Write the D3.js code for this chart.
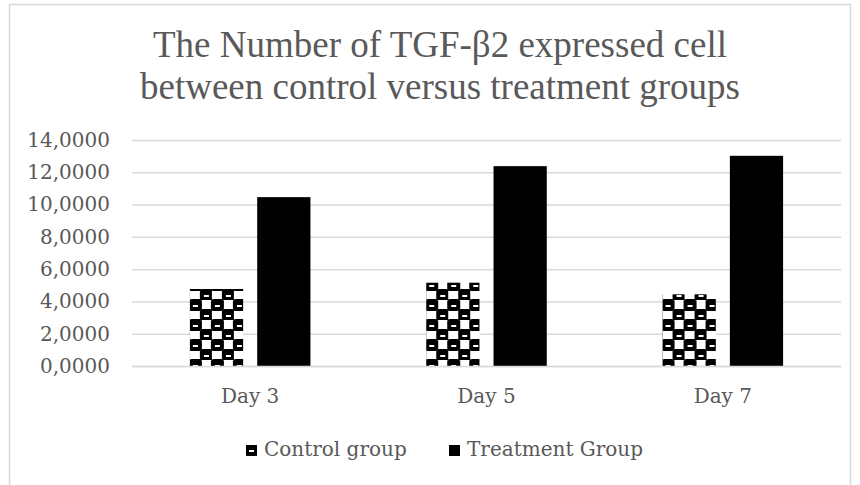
<!DOCTYPE html>
<html>
<head>
<meta charset="utf-8">
<script src="https://cdn.jsdelivr.net/npm/d3@7"></script>
<style>
  html, body { margin: 0; padding: 0; background: #fff; }
  svg { display: block; }
  .tick text { fill: #595959; font-family: "DejaVu Serif", serif; font-size: 20px; }
</style>
</head>
<body>
<div id="chart"></div>
<script>
// Chart data
const titleLines = ["The Number of TGF-\u03B22 expressed cell", "between control versus treatment groups"];
const days = ["Day 3", "Day 5", "Day 7"];
const seriesNames = ["Control group", "Treatment Group"];
const controlValues = [4.77, 5.16, 4.44];
const treatmentValues = [10.46, 12.38, 13.02];
const yTicks = [0, 2, 4, 6, 8, 10, 12, 14];

const W = 860, H = 485;
const plot = { left: 132, right: 841, top: 140, bottom: 366 };

const svg = d3.select("#chart").append("svg").attr("width", W).attr("height", H);

// checker pattern for the control series
const defs = svg.append("defs");
const pat = defs.append("pattern").attr("id", "checker").attr("patternUnits", "userSpaceOnUse")
  .attr("width", 22).attr("height", 20);
pat.append("rect").attr("width", 22).attr("height", 20).attr("fill", "#fff");
[[-1, -1], [10, 9], [21, -1], [-1, 19], [21, 19]].forEach(([x, y]) => {
  pat.append("rect").attr("x", x).attr("y", y).attr("width", 13).attr("height", 12).attr("rx", 3).attr("fill", "#000");
  pat.append("rect").attr("x", x + 4).attr("y", y + 6).attr("width", 5).attr("height", 2).attr("fill", "#fff");
});

// outer chart frame
svg.append("rect").attr("x", 9.5).attr("y", 4.5).attr("width", 841).attr("height", 500)
  .attr("fill", "none").attr("stroke", "#d9d9d9").attr("stroke-width", 1.5);

// title
svg.append("g").selectAll("text").data(titleLines).join("text")
  .attr("x", 440).attr("y", (d, i) => 57 + i * 41.5)
  .attr("text-anchor", "middle")
  .attr("font-family", "'Liberation Serif', 'Times New Roman', serif")
  .attr("font-size", 37).attr("fill", "#595959")
  .text(d => d);

const x0 = d3.scaleBand().domain(days).range([plot.left, plot.right]).paddingInner(0.49).paddingOuter(0.245);
const x1 = d3.scaleBand().domain(seriesNames).range([0, x0.bandwidth()]).paddingInner(14 / 67);
const y = d3.scaleLinear().domain([0, 14]).range([plot.bottom, plot.top]);

const fmt = d3.formatLocale({ decimal: ",", thousands: ".", grouping: [3], currency: ["", ""] }).format(".4f");

// gridlines + y labels
const yAxis = svg.append("g").attr("transform", `translate(${plot.left},0)`)
  .call(d3.axisLeft(y).tickValues(yTicks).tickFormat(fmt).tickSize(-(plot.right - plot.left)).tickPadding(22));
yAxis.select(".domain").remove();
yAxis.selectAll(".tick line").attr("stroke", "#d9d9d9").attr("stroke-width", 1.5);

// bars
const rows = days.map((d, i) => ({ day: d, vals: [controlValues[i], treatmentValues[i]] }));
const groups = svg.append("g").selectAll("g").data(rows).join("g")
  .attr("transform", d => `translate(${x0(d.day)},0)`);
groups.selectAll("rect").data(d => d.vals.map((v, j) => ({ s: seriesNames[j], v })))
  .join("rect")
  .attr("x", d => x1(d.s)).attr("width", x1.bandwidth())
  .attr("y", d => y(d.v)).attr("height", d => y(0) - y(d.v))
  .attr("fill", d => d.s === seriesNames[0] ? "url(#checker)" : "#000");

// x labels
const xAxis = svg.append("g").attr("transform", `translate(0,${plot.bottom})`)
  .call(d3.axisBottom(x0).tickSize(0).tickPadding(23));
xAxis.select(".domain").attr("stroke", "#d9d9d9").attr("stroke-width", 1.5);

// legend
const legendX = [246, 449];
const legend = svg.append("g").selectAll("g").data(seriesNames).join("g")
  .attr("transform", (d, i) => `translate(${legendX[i]},445)`);
legend.append("rect").attr("width", 11).attr("height", 11)
  .attr("fill", (d, i) => i === 0 ? "url(#checker)" : "#000");
legend.append("text").attr("x", 18).attr("y", 11)
  .attr("font-family", "'DejaVu Serif', serif").attr("font-size", 20).attr("fill", "#595959")
  .text(d => d);
</script>
</body>
</html>
